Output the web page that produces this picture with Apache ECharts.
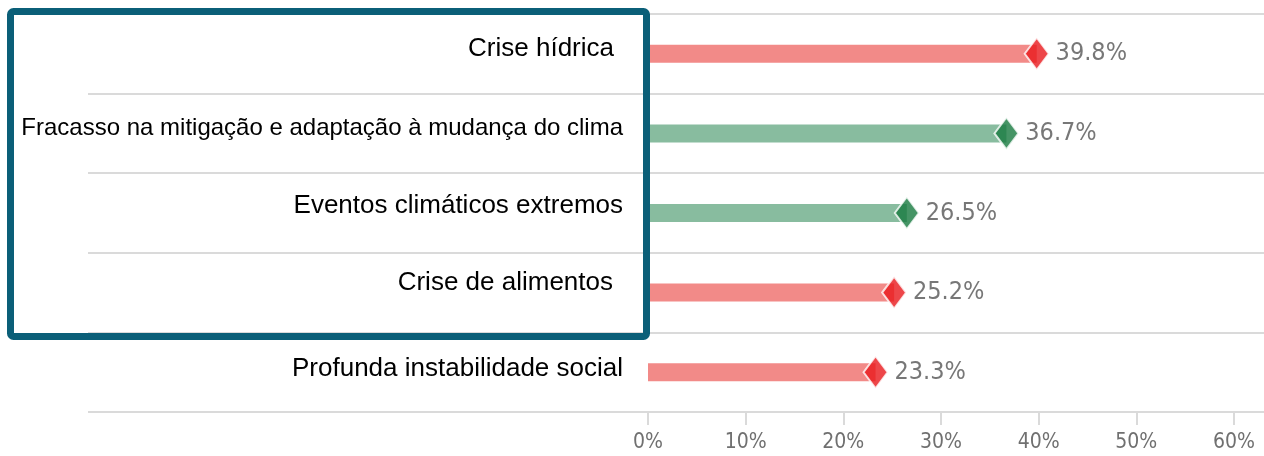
<!DOCTYPE html>
<html>
<head>
<meta charset="utf-8">
<script src="https://cdn.jsdelivr.net/npm/echarts@6/dist/echarts.min.js"></script>
<style>
  html, body { margin: 0; padding: 0; background: #fff; }
  #chart { width: 1264px; height: 456px; }
</style>
</head>
<body>
<div id="chart"></div>
<script>
const categories = [
  'Crise hídrica',
  'Fracasso na mitigação e adaptação à mudança do clima',
  'Eventos climáticos extremos',
  'Crise de alimentos',
  'Profunda instabilidade social',
]
const values = [39.8, 36.7, 26.5, 25.2, 23.3]
const isClimate = [false, true, true, false, false]
const xTicks = [0, 10, 20, 30, 40, 50, 60]

const narrow = "'Liberation Sans Narrow', 'DejaVu Sans Condensed', 'Roboto', sans-serif"
const barColor = (c) => (c ? '#88bc9f' : '#f28a88')
const markColor = (c) => (c ? '#17793f' : '#e8181b')

// ajuste fino de cada rótulo (caixas de texto sobrepostas no original)
const labelRich = {
  r0: { fontSize: 26, padding: [0, 9, 10, 0] },
  r1: { fontSize: 24, padding: [0, 0, 11, 0] },
  r2: { fontSize: 26, padding: [0, 0, 14, 0] },
  r3: { fontSize: 26, padding: [0, 10, 19, 0] },
  r4: { fontSize: 26, padding: [0, 0, 6, 0] },
}
Object.values(labelRich).forEach((s) => {
  s.fontFamily = "'Liberation Sans', Arial, sans-serif"
  s.color = '#000'
})

const chart = echarts.init(document.getElementById('chart'))
chart.setOption({
  animation: false,
  backgroundColor: '#fff',
  grid: [
    // linhas horizontais de fundo
    { left: 88, right: 0, top: 14, bottom: 44 },
    // área do gráfico
    { left: 648, right: 30, top: 14, bottom: 44 },
  ],
  xAxis: [
    { gridIndex: 0, type: 'value', show: false, min: 0, max: 1 },
    {
      gridIndex: 1,
      type: 'value',
      min: xTicks[0],
      max: xTicks[xTicks.length - 1],
      interval: 10,
      axisLine: { show: false },
      axisTick: { show: true, length: 13, lineStyle: { color: '#dadada', width: 2 } },
      splitLine: { show: false },
      axisLabel: {
        margin: 20,
        formatter: '{value}%',
        fontFamily: narrow,
        fontSize: 21,
        color: '#707070',
      },
    },
  ],
  yAxis: [
    {
      gridIndex: 0,
      type: 'category',
      inverse: true,
      data: categories,
      axisLine: { show: false },
      axisTick: { show: false },
      axisLabel: { show: false },
      splitLine: { show: true, lineStyle: { color: '#dadada', width: 2 } },
    },
    {
      gridIndex: 1,
      type: 'category',
      inverse: true,
      data: categories,
      axisLine: { show: false },
      axisTick: { show: false },
      splitLine: { show: false },
      axisLabel: {
        margin: 25,
        formatter: (v, i) => `{r${i}|${v}}`,
        rich: labelRich,
      },
    },
  ],
  series: [
    {
      type: 'bar',
      xAxisIndex: 1,
      yAxisIndex: 1,
      barWidth: 18,
      data: values.map((v, i) => ({ value: v, itemStyle: { color: barColor(isClimate[i]) } })),
    },
    {
      type: 'scatter',
      xAxisIndex: 1,
      yAxisIndex: 1,
      symbol: 'diamond',
      symbolSize: [24, 32],
      z: 3,
      data: values.map((v, i) => ({
        value: [v, categories[i]],
        itemStyle: { color: markColor(isClimate[i]), borderColor: '#fff', borderWidth: 2 },
      })),
      label: {
        show: true,
        position: 'right',
        distance: 6,
        formatter: (p) => p.value[0].toFixed(1) + '%',
        fontFamily: narrow,
        fontSize: 25,
        color: '#555',
      },
    },
  ],
  graphic: [
    {
      type: 'rect',
      z: 100,
      shape: { x: 10.5, y: 11.5, width: 636, height: 325, r: 3 },
      style: { fill: 'none', stroke: '#0b5f78', lineWidth: 7 },
    },
  ],
})
</script>
</body>
</html>
